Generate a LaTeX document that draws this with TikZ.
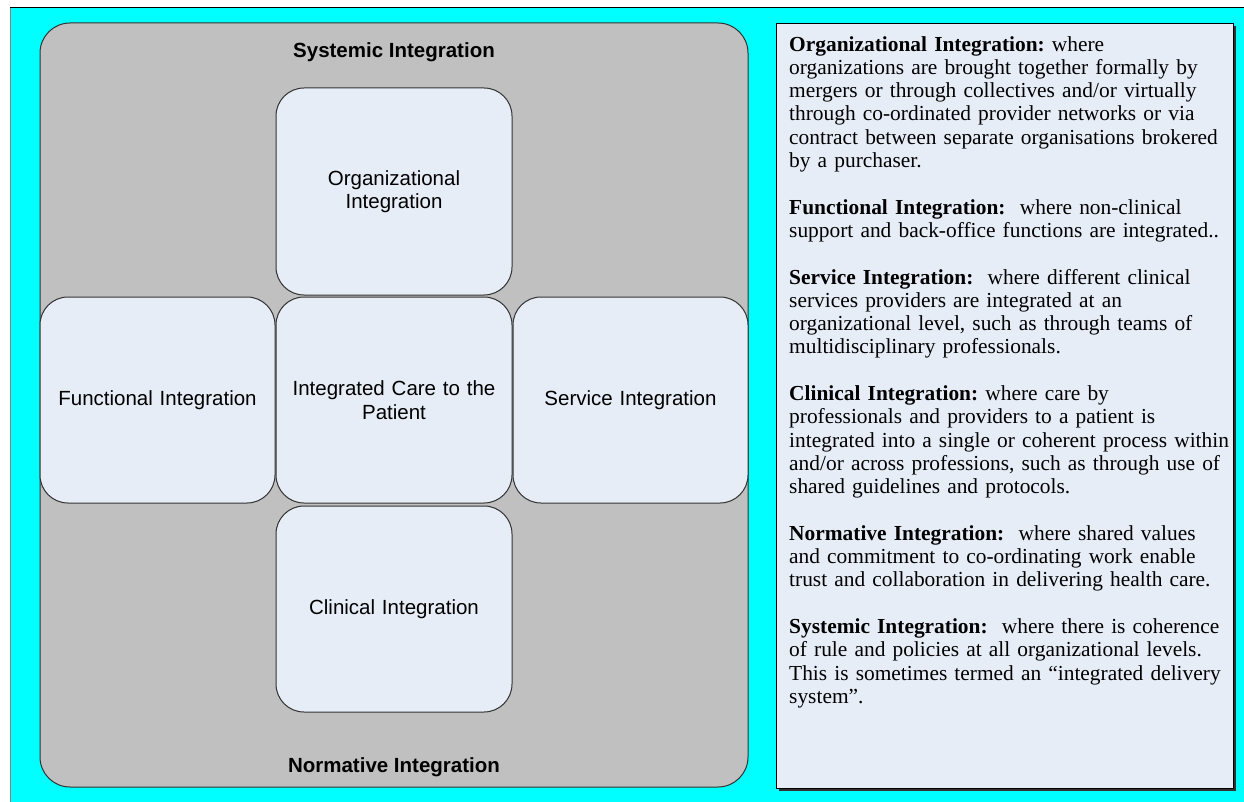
\documentclass[tikz,border=0pt]{standalone}
\usepackage{fontspec}
\setmainfont{Liberation Serif}
\newfontfamily\arialf{Liberation Sans}
\definecolor{cyanbg}{RGB}{0,255,255}
\definecolor{graybg}{RGB}{192,192,192}
\definecolor{lightbox}{RGB}{231,237,247}
\definecolor{edgecol}{RGB}{50,50,50}
\tikzset{
  cellbox/.style={draw=edgecol, line width=1pt, fill=lightbox, rounded corners=28pt,
    minimum width=236pt, minimum height=206pt, inner sep=0pt, align=center,
    text width=220pt, font=\arialf\fontsize{20.5}{23.5}\selectfont},
  outerbox/.style={draw=edgecol, line width=1pt, fill=graybg, rounded corners=30pt,
    minimum width=708pt, minimum height=764pt, inner sep=0pt},
  boldlabel/.style={inner sep=0pt, font=\arialf\bfseries\fontsize{20.5}{23.5}\selectfont},
  descbox/.style={draw=black, line width=1pt, fill=lightbox, minimum width=457pt,
    minimum height=765pt, inner sep=0pt, anchor=north west},
  desctext/.style={inner sep=0pt, anchor=north west, align=left, text width=445pt,
    font=\fontsize{21.4}{23.3}\selectfont\frenchspacing}
}
\begin{document}
\begin{tikzpicture}[x=1pt,y=-1pt]
\useasboundingbox (0,0) rectangle (1244,802);
\fill[white] (0,0) rectangle (1244,802);
\fill[cyanbg] (10,8) rectangle (1244,802);
\draw[black, line width=1pt] (10,8) -- (1244,8);
\draw[gray, line width=1pt] (10,8) -- (10,802);

\node[outerbox] (outer) at (394,405) {};
\node[boldlabel] (systxt) at (394,52) {Systemic Integration};
\node[boldlabel] (normtxt) at (394,767) {Normative Integration};

\node[cellbox, minimum height=207pt] (org) at (394,191.5) {Organizational\\Integration};
\node[cellbox, minimum width=235pt] (func) at (157.5,400) {Functional Integration};
\node[cellbox] (center) at (394,400) {Integrated Care to the\\Patient};
\node[cellbox, minimum width=235pt] (serv) at (630.5,400) {Service Integration};
\node[cellbox] (clin) at (394,609) {Clinical Integration};

\fill[edgecol] (779,26) rectangle (1235.5,790.5);
\node[descbox] (desc) at (776,23) {};
\node[desctext] (desctxt) at (789,36) {%
\textbf{Organizational Integration:} where\\
organizations are brought together formally by\\
mergers or through collectives and/or virtually\\
through co-ordinated provider networks or via\\
contract between separate organisations brokered\\
by a purchaser.\\[23.3pt]
\textbf{Functional Integration:}\ \ where non-clinical\\
support and back-office functions are integrated..\\[23.3pt]
\textbf{Service Integration:}\ \ where different clinical\\
services providers are integrated at an\\
organizational level, such as through teams of\\
multidisciplinary professionals.\\[23.3pt]
\textbf{Clinical Integration:} where care by\\
professionals and providers to a patient is\\
integrated into a single or coherent process within\\
and/or across professions, such as through use of\\
shared guidelines and protocols.\\[23.3pt]
\textbf{Normative Integration:}\ \ where shared values\\
and commitment to co-ordinating work enable\\
trust and collaboration in delivering health care.\\[23.3pt]
\textbf{Systemic Integration:}\ \ where there is coherence\\
of rule and policies at all organizational levels.\\
This is sometimes termed an “integrated delivery\\
system”.};
\end{tikzpicture}
\end{document}
